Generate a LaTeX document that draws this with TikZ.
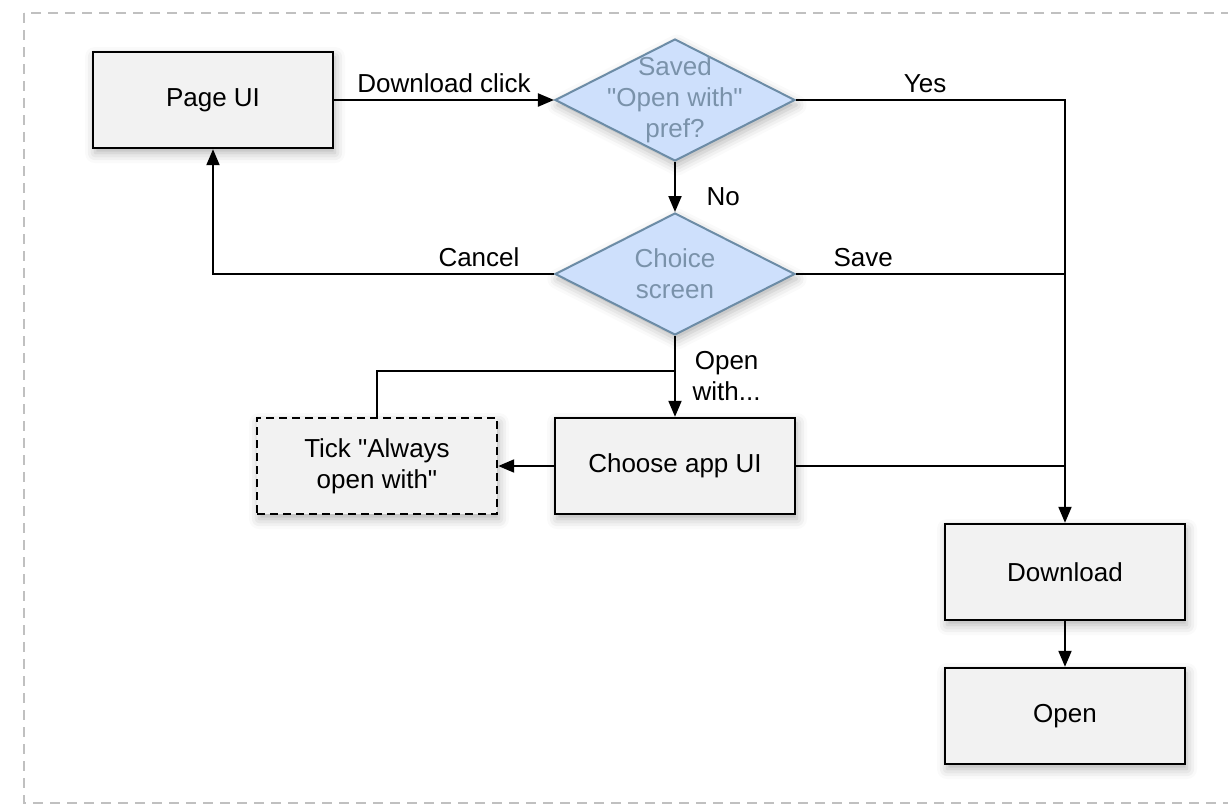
\documentclass[tikz,border=0pt]{standalone}
\usepackage{fontspec}
\setmainfont{Liberation Sans}[Ligatures=TeXOff]
\usetikzlibrary{shapes.geometric,arrows.meta,shadows.blur}
\definecolor{boxfill}{RGB}{242,242,242}
\definecolor{askfill}{RGB}{206,224,252}
\definecolor{askline}{RGB}{108,140,166}
\definecolor{askfont}{RGB}{122,146,170}
\definecolor{framegray}{RGB}{192,192,192}

\begin{document}
\begin{tikzpicture}[x=0.5pt, y=-0.5pt, line width=1pt,
    font=\fontsize{13}{15.5}\selectfont,
    >={Triangle[length=8pt, width=6.5pt]},
    box/.style={draw, line width=1.2pt, fill=boxfill, minimum width=120pt, minimum height=48pt, align=center,
        blur shadow={shadow xshift=1pt, shadow yshift=-2.5pt, shadow blur radius=5pt, shadow opacity=30}},
    ask/.style={diamond, draw=askline, line width=1pt, fill=askfill, minimum width=120pt, minimum height=61pt, inner sep=0pt,
        blur shadow={shadow xshift=1pt, shadow yshift=-2.5pt, shadow blur radius=5pt, shadow opacity=30}},
    asktext/.style={text=askfont, align=center}]

    \useasboundingbox (0, 0) rectangle (1228, 805);
    \draw [draw=framegray, dash pattern=on 5pt off 3.5pt] (24, 13) rectangle (1240, 803);

    \node[box] (page) at (213, 100) {Page UI};
    \node[ask] (pref) at (675, 100) {};
    \node[asktext] at (pref) {Saved\\"Open with"\\pref?};
    \node[ask] (choice) at (675, 274) {};
    \node[asktext] at (choice) {Choice\\screen};
    \node[box] (choose) at (675, 466) {Choose app UI};
    \node[box, dash pattern=on 4pt off 2.5pt] (tick) at (377, 466) {Tick "Always\\open with"};
    \node[box] (dl) at (1065, 572) {Download};
    \node[box] (open) at (1065, 716) {Open};
    \coordinate (j) at (675, 371);

    \draw [->] (page) to node[above] {Download click} (pref);
    \draw [->] (pref.east) -| node[above, pos=0.24] {Yes} (dl.north);
    \draw [->] (pref.south) to node[right=12pt, pos=0.7] {No} (choice.north);
    \draw [->] (choice.west) -| node[above, pos=0.11] {Cancel} (page.south);
    \draw (choice.east) to node[above, pos=0.25] {Save} (choice.east -| dl.north);
    \draw [->] (choice.south) to node[right=5pt, align=center] {Open\\with...} (choose.north);
    \draw (tick.north) |- (j);
    \draw [->] (choose.west) to (tick.east);
    \draw (choose.east) to (choose.east -| dl.north);
    \draw [->] (dl) to (open);

\end{tikzpicture}
\end{document}
